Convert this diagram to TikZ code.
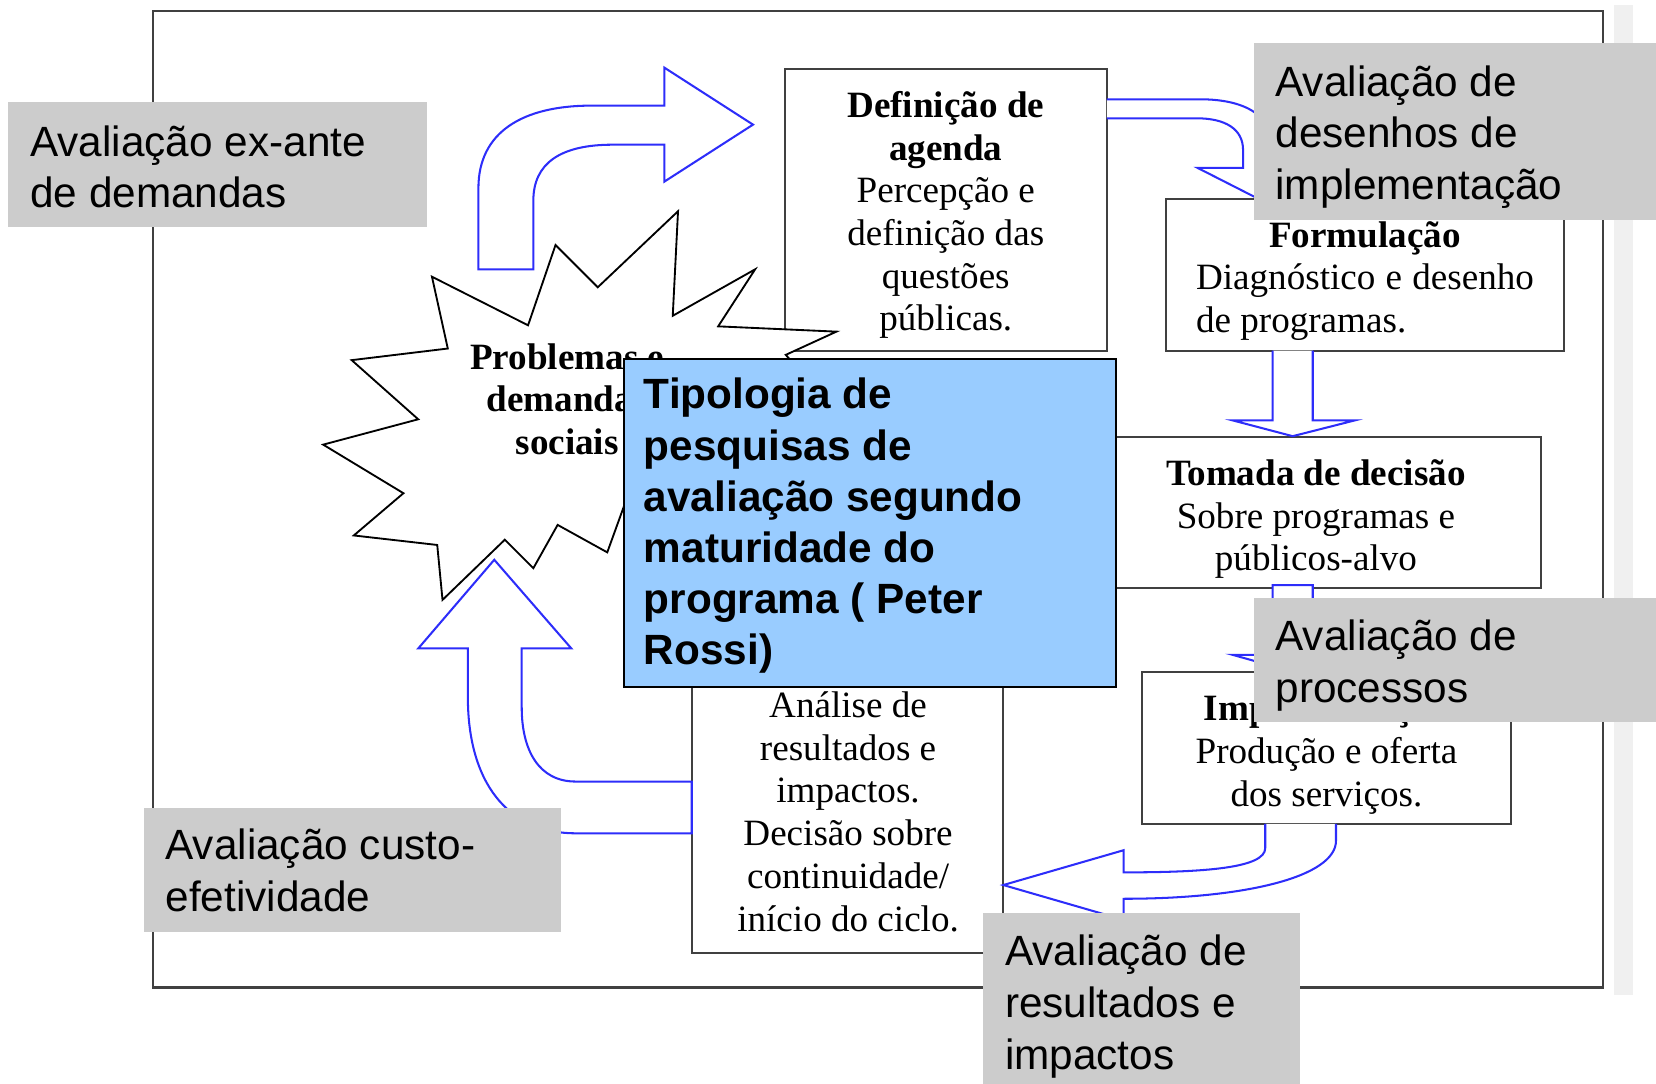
\documentclass[tikz,border=0pt]{standalone}
\usepackage{fontspec}
\setmainfont{Liberation Sans}
\newfontfamily\timesfont{Liberation Serif}
\definecolor{setablue}{RGB}{45,45,250}
\definecolor{caixacinza}{RGB}{204,204,204}
\definecolor{caixaazul}{RGB}{153,204,255}
\definecolor{faixa}{RGB}{240,240,240}

\begin{document}
\begin{tikzpicture}[x=0.1mm, y=-0.1mm,
        etapa/.style={draw=black!75, line width=0.55pt, fill=white, inner sep=0pt},
        etapatexto/.style={align=center, inner sep=0pt, font=\timesfont\fontsize{10}{11.5}\selectfont},
        rotulo/.style={anchor=west, align=left, inner sep=0pt, font=\fontsize{11.4}{13.9}\selectfont},
        seta/.style={draw=setablue, line width=0.55pt, fill=white}]

    % moldura e faixa da direita
    \useasboundingbox (0,0) rectangle (1568,1026);
    \fill[faixa] (1528,5) rectangle (1546,942);
    \draw[black!75, line width=0.55pt] (145,10) rectangle (1518,935);

    % caixa da agenda
    \node[etapa, minimum width=30.5mm, minimum height=26.7mm] (agenda) at (895.5,198.5) {};
    \node[etapatexto] (agendatexto) at (895.5,203.5)
        {\textbf{Definição de}\\\textbf{agenda}\\Percepção e\\definição das\\questões\\públicas.};

    % estrela dos problemas
    \filldraw[fill=white, draw=black, line width=0.5pt] (409,262) -- (500,308) -- (526,232) -- (566,272)
        -- (642,200) -- (637,299) -- (715,255) -- (680,309) -- (792,314) -- (744,336) -- (820,420)
        -- (700,430) -- (605,440) -- (575,523) -- (528,497) -- (505,538) -- (478,511) -- (419,568)
        -- (414,516) -- (335,507) -- (382,467) -- (306,421) -- (396,397) -- (333,341) -- (424,330) -- cycle;
    \node[etapatexto, font=\timesfont\bfseries\fontsize{10}{11.5}\selectfont] (problemas) at (537,378)
        {Problemas e\\demandas\\sociais};

    % demais etapas do ciclo
    \node[etapa, minimum width=37.7mm, minimum height=14.4mm] (formulacao) at (1292.5,260) {};
    \node[etapatexto] (formulacaotexto) at (1292.5,266)
        {\textbf{Formulação}\\\makebox[32mm][s]{Diagnóstico e desenho}\\\makebox[32mm][l]{de programas.}};
    \node[etapa, minimum width=42.6mm, minimum height=14.3mm] (decisao) at (1246,485.5) {};
    \node[etapatexto] (decisaotexto) at (1246,491.5)
        {\textbf{Tomada de decisão}\\Sobre programas e\\públicos-alvo};
    \node[etapa, minimum width=35mm, minimum height=14.4mm] (implementacao) at (1256,708) {};
    \node[etapatexto] (implementacaotexto) at (1256,714.5)
        {\textbf{Implementação}\\Produção e oferta\\dos serviços.};
    \node[etapa, minimum width=29.5mm, minimum height=36.2mm] (analise) at (802.5,721) {};
    \node[etapatexto] (analisetexto) at (803,768.5)
        {Análise de\\resultados e\\impactos.\\Decisão sobre\\continuidade/\\início do ciclo.};

    % setas azuis
    \filldraw[seta] (453,255) -- (453,178) .. controls (453,125) and (495,100) .. (560,100) -- (629,100)
        -- (629,64) -- (713,118) -- (629,172) -- (629,137) -- (580,137)
        .. controls (530,137) and (505,155) .. (505,190) -- (505,255) -- cycle; % problemas -> agenda
    \filldraw[seta] (1048,94) -- (1136,94) .. controls (1180,94) and (1205,110) .. (1205,140) -- (1205,159)
        -- (1248,159) -- (1191,188) -- (1134,159) -- (1177,159) -- (1177,142)
        .. controls (1177,122) and (1160,112) .. (1133,112) -- (1048,112); % agenda -> formulacao
    \filldraw[seta] (1205,332) -- (1205,398) -- (1167,398) -- (1224,413) -- (1283,398) -- (1243,398)
        -- (1243,332); % formulacao -> decisao
    \filldraw[seta] (1205,554) -- (1205,620) -- (1167,620) -- (1224,636) -- (1283,620) -- (1243,620)
        -- (1243,554) -- cycle; % decisao -> implementacao
    \filldraw[seta] (1198,780) -- (1198,803) .. controls (1198,822) and (1140,826) .. (1064,826) -- (1064,805)
        -- (950,838) -- (1064,871) -- (1064,851) .. controls (1180,851) and (1265,830) .. (1265,796)
        -- (1265,780); % implementacao -> analise
    \filldraw[seta] (655,740) -- (545,740) .. controls (510,740) and (494,710) .. (494,670) -- (494,614)
        -- (541,614) -- (468,530) -- (396,614) -- (443,614) -- (443,660)
        .. controls (443,740) and (480,789) .. (545,789) -- (655,789) -- cycle; % analise -> problemas

    % titulo em azul
    \node[fill=caixaazul, draw=black, line width=0.5pt, anchor=north west, minimum width=46.6mm,
          minimum height=31.1mm, inner sep=0pt] (tipologia) at (590,339) {};
    \node[rotulo, font=\bfseries\fontsize{11.4}{13.8}\selectfont] (tipologiatexto) at (609,498)
        {Tipologia de\\pesquisas de\\avaliação segundo\\maturidade do\\programa ( Peter\\Rossi)};

    % rotulos cinza
    \fill[caixacinza] (8,97) rectangle (404,215);
    \node[rotulo] (exante) at (28,158) {Avaliação ex-ante\\de demandas};
    \fill[caixacinza] (1187,41) rectangle (1568,208);
    \node[rotulo] (desenhos) at (1207,129.5) {Avaliação de\\desenhos de\\implementação};
    \fill[caixacinza] (1187,566) rectangle (1568,684);
    \node[rotulo] (processos) at (1207,630) {Avaliação de\\processos};
    \fill[caixacinza] (136,765) rectangle (531,882);
    \node[rotulo] (custo) at (156,824) {Avaliação custo-\\efetividade};
    \fill[caixacinza] (931,864) rectangle (1231,1026);
    \node[rotulo] (resultados) at (951,953) {Avaliação de\\resultados e\\impactos};

\end{tikzpicture}
\end{document}
